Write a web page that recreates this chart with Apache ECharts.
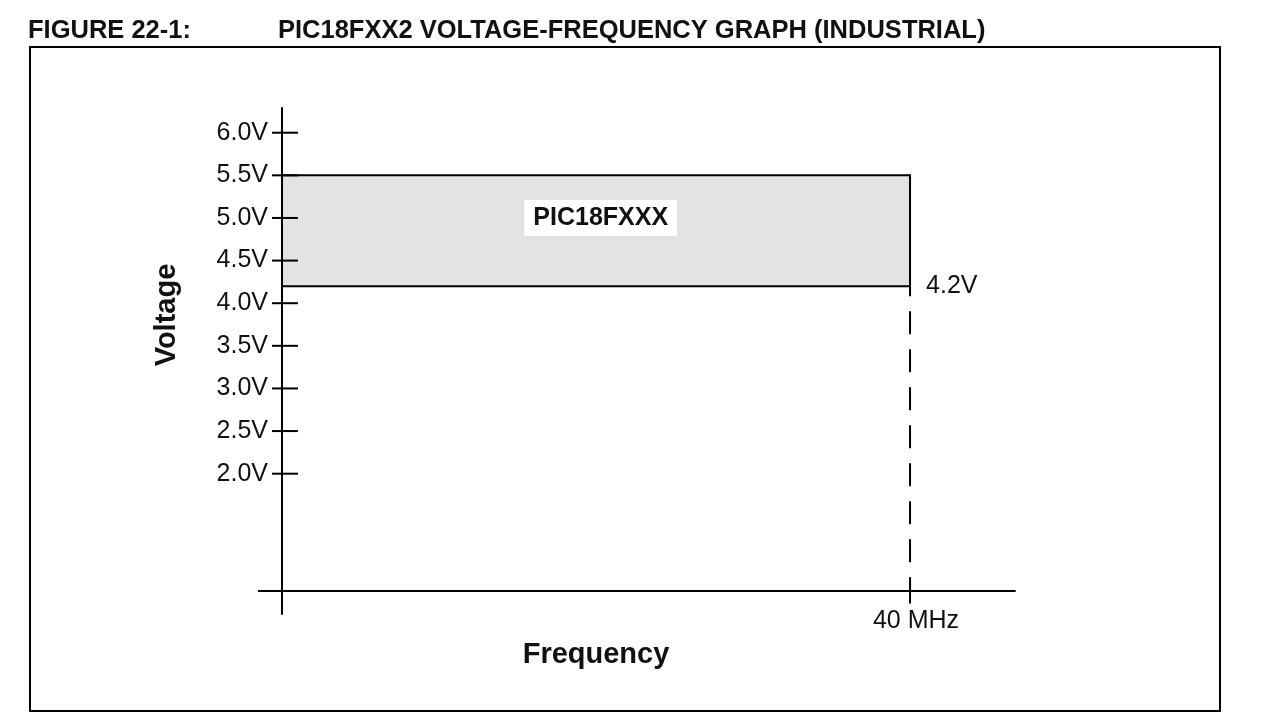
<!DOCTYPE html>
<html>
<head>
<meta charset="utf-8">
<script src="https://cdn.jsdelivr.net/npm/echarts@6/dist/echarts.min.js"></script>
<style>
html,body{margin:0;padding:0;background:#fff;}
#c{width:1280px;height:720px;}
</style>
</head>
<body>
<div id="c"></div>
<script>
// ---- chart content ----
const FIGURE_NO = 'FIGURE 22-1:';
const FIGURE_TITLE = 'PIC18FXX2 VOLTAGE-FREQUENCY GRAPH (INDUSTRIAL)';
const V_TICKS = [2.0, 2.5, 3.0, 3.5, 4.0, 4.5, 5.0, 5.5, 6.0];   // volts
const F_TICKS = [40];                                              // MHz
const BAND_FREQ = [0, 40];        // MHz
const BAND_VOLT = [4.2, 5.5];     // V
const DEVICE = 'PIC18FXXX';
const DEVICE_POS = [20.3, 5.0];   // [MHz, V]
const AXIS_NAMES = ['Frequency', 'Voltage'];

// ---- axis extents (the drawn axes overshoot the origin) ----
const X_RANGE = [-1.53, 46.73];
const Y_RANGE = [0.354, 6.29];
const X_AXIS_AT = 0.628;          // voltage level where the frequency axis is drawn

const FONT = '"Liberation Sans", Arial, Helvetica, sans-serif';
const INK = '#111';

const chart = echarts.init(document.getElementById('c'), null, {renderer: 'canvas'});

const option = {
  backgroundColor: '#fff',
  animation: false,
  title: [
    {text: FIGURE_NO, left: 23, top: 13,
     textStyle: {fontFamily: FONT, fontSize: 25.5, fontWeight: 'bold', color: INK}},
    {text: FIGURE_TITLE, left: 273, top: 13,
     textStyle: {fontFamily: FONT, fontSize: 25.5, fontWeight: 'bold', color: INK}}
  ],
  graphic: [
    {type: 'rect', silent: true, z: -10,
     shape: {x: 30, y: 47, width: 1190, height: 664},
     style: {fill: null, stroke: '#000', lineWidth: 2}},
    {type: 'text', x: 167, y: 315, rotation: Math.PI / 2, silent: true,
     style: {text: AXIS_NAMES[1], fontFamily: FONT, fontSize: 29, fontWeight: 'bold',
             fill: INK, align: 'center', verticalAlign: 'middle'}},
    {type: 'text', x: 596, y: 655, silent: true,
     style: {text: AXIS_NAMES[0], fontFamily: FONT, fontSize: 29, fontWeight: 'bold',
             fill: INK, align: 'center', verticalAlign: 'middle'}}
  ],
  grid: {left: 258, right: 264.3, top: 108, bottom: 106},
  xAxis: {
    type: 'value', min: X_RANGE[0], max: X_RANGE[1],
    axisLine: {show: false}, axisTick: {show: false}, splitLine: {show: false},
    axisLabel: {show: false}
  },
  yAxis: {
    type: 'value', min: Y_RANGE[0], max: Y_RANGE[1],
    axisLine: {show: true, onZero: true, lineStyle: {color: '#000', width: 2}},
    axisTick: {show: false}, splitLine: {show: false},
    axisLabel: {customValues: V_TICKS, formatter: v => v.toFixed(1) + 'V', margin: -10,
                fontFamily: FONT, fontSize: 25, color: INK}
  },
  series: [
    {
      // band + dashed 40 MHz limit
      type: 'line', silent: true, symbol: 'none', z: 3,
      data: [[BAND_FREQ[1], BAND_VOLT[0]], [BAND_FREQ[1], X_AXIS_AT]],
      lineStyle: {color: '#000', width: 2, type: [23, 15], dashOffset: 13},
      markArea: {
        silent: true,
        itemStyle: {color: '#e3e3e3', borderColor: '#000', borderWidth: 2, opacity: 1},
        label: {show: false},
        data: [[{xAxis: BAND_FREQ[0], yAxis: BAND_VOLT[0]}, {xAxis: BAND_FREQ[1], yAxis: BAND_VOLT[1]}]]
      }
    },
    {
      // voltage tick marks crossing the axis, and the frequency axis line
      type: 'scatter', silent: true, z: 4,
      symbol: 'rect', symbolSize: [26, 2], symbolOffset: [3, 0],
      itemStyle: {color: '#000', opacity: 1},
      data: V_TICKS.map(v => [0, v]),
      markLine: {
        silent: true, symbol: ['none', 'none'], label: {show: false},
        lineStyle: {color: '#000', width: 2, type: 'solid', opacity: 1},
        data: [{yAxis: X_AXIS_AT}]
      }
    },
    {
      // frequency tick + label
      type: 'scatter', silent: true, z: 4,
      symbol: 'rect', symbolSize: [2, 26],
      itemStyle: {color: '#000', opacity: 1},
      data: F_TICKS.map(f => [f, X_AXIS_AT]),
      label: {show: true, position: 'bottom', distance: 5, offset: [6, 0],
              formatter: p => p.value[0] + ' MHz',
              fontFamily: FONT, fontSize: 25, color: INK}
    },
    {
      // lower-limit voltage label
      type: 'scatter', silent: true, symbolSize: 0, z: 5,
      itemStyle: {opacity: 1},
      data: [[BAND_FREQ[1], BAND_VOLT[0]]],
      label: {show: true, position: 'right', distance: 16,
              formatter: p => p.value[1].toFixed(1) + 'V',
              fontFamily: FONT, fontSize: 25, color: INK}
    },
    {
      // device label
      type: 'scatter', silent: true, symbolSize: 0, z: 5,
      itemStyle: {opacity: 1},
      data: [DEVICE_POS],
      label: {show: true, position: 'inside', formatter: DEVICE,
              fontFamily: FONT, fontSize: 25, fontWeight: 'bold', color: INK,
              backgroundColor: '#fff', padding: [6, 9, 5, 9], lineHeight: 25}
    }
  ]
};

chart.setOption(option);
</script>
</body>
</html>
